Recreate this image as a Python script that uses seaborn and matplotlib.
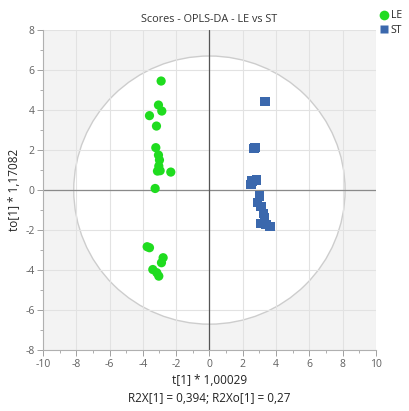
import matplotlib
matplotlib.use("Agg")
import matplotlib.pyplot as plt
from matplotlib.patches import Ellipse
from matplotlib.lines import Line2D
from matplotlib.ticker import MultipleLocator
import seaborn as sns
import pandas as pd

# OPLS-DA score values: predictive component t[1] and orthogonal component to[1]
le_t = [-2.90, -3.06, -2.86, -3.60, -3.18, -3.22, -3.06, -3.00, -3.04, -2.96,
        -3.12, -2.32, -3.26, -3.74, -3.60, -2.78, -2.88, -3.40, -3.16, -3.04]
le_to = [5.45, 4.25, 3.95, 3.72, 3.20, 2.12, 1.75, 1.50, 1.20, 0.97,
         0.95, 0.90, 0.08, -2.83, -2.88, -3.38, -3.63, -3.97, -4.13, -4.30]
st_t = [3.34, 2.68, 2.74, 2.56, 2.84, 2.50, 3.00, 2.90, 3.10, 3.24,
        3.30, 3.10, 3.40, 3.64]
st_to = [4.42, 2.08, 2.13, 0.45, 0.50, 0.28, -0.30, -0.62, -0.83, -1.17,
         -1.38, -1.67, -1.72, -1.83]
groups = ["LE", "ST"]
group_colors = {"LE": "#1fdc1f", "ST": "#3b68ad"}
group_markers = {"LE": "o", "ST": "s"}

# Hotelling's T2 (95%) ellipse half-axes
t2_x, t2_y = 8.15, 6.7

df = pd.DataFrame({
    "t": le_t + st_t,
    "to": le_to + st_to,
    "group": ["LE"] * len(le_t) + ["ST"] * len(st_t),
})

sns.set_style("white")
plt.rcParams["font.family"] = ["Open Sans", "DejaVu Sans"]
plt.rcParams["axes.unicode_minus"] = False

fig = plt.figure(figsize=(4.09, 4.11), dpi=100)
ax = fig.add_axes([0.105, 0.148, 0.814, 0.779])
ax.set_facecolor("#f3f3f3")

ax.add_patch(Ellipse((0, 0), 2 * t2_x, 2 * t2_y, facecolor="white",
                     edgecolor="#cdcdcd", linewidth=1.0, zorder=0.3))

sns.scatterplot(data=df, x="t", y="to", hue="group", style="group",
                palette=group_colors, markers=group_markers, s=44,
                edgecolor="none", legend=False, ax=ax, zorder=3)

ax.set_xlim(-10, 10)
ax.set_ylim(-8, 8)
ax.xaxis.set_major_locator(MultipleLocator(2))
ax.yaxis.set_major_locator(MultipleLocator(2))
ax.xaxis.set_minor_locator(MultipleLocator(1))
ax.yaxis.set_minor_locator(MultipleLocator(1))
ax.set_axisbelow(True)
ax.grid(True, which="major", color="#e2e2e2", linewidth=0.8, zorder=0.5)
ax.axhline(0, color="#8a8a8a", linewidth=0.9, zorder=1)
ax.axvline(0, color="#555555", linewidth=0.9, zorder=1)

for side in ("top", "right"):
    ax.spines[side].set_visible(False)
for side in ("left", "bottom"):
    ax.spines[side].set_color("#b0b0b0")
    ax.spines[side].set_linewidth(0.8)

ax.tick_params(which="major", direction="out", length=4, width=0.7,
               color="#a0a0a0", labelcolor="#606060", labelsize=7.5, pad=2,
               left=True, bottom=True)
ax.tick_params(which="minor", direction="out", length=2, width=0.6,
               color="#a0a0a0", left=True, bottom=True)

ax.set_xlabel("t[1] * 1,00029\nR2X[1] = 0,394; R2Xo[1] = 0,27",
              fontsize=8.5, color="#222222", labelpad=3, linespacing=1.5)
ax.set_ylabel("to[1] * 1,17082", fontsize=8.5, color="#222222", labelpad=3)
ax.set_title("Scores - OPLS-DA - LE vs ST", fontsize=7.8, color="#333333", pad=6)

handles = [Line2D([0], [0], marker=group_markers[g], linestyle="none",
                  markerfacecolor=group_colors[g], markeredgecolor="none",
                  markersize=7 if g == "LE" else 6, label=g) for g in groups]
fig.legend(handles=handles, loc="upper left", bbox_to_anchor=(0.917, 0.985),
           frameon=False, fontsize=7.5, handletextpad=0.1, labelspacing=0.35,
           borderaxespad=0, handlelength=1.0)

fig.savefig("out.png", dpi=100, facecolor="white")
